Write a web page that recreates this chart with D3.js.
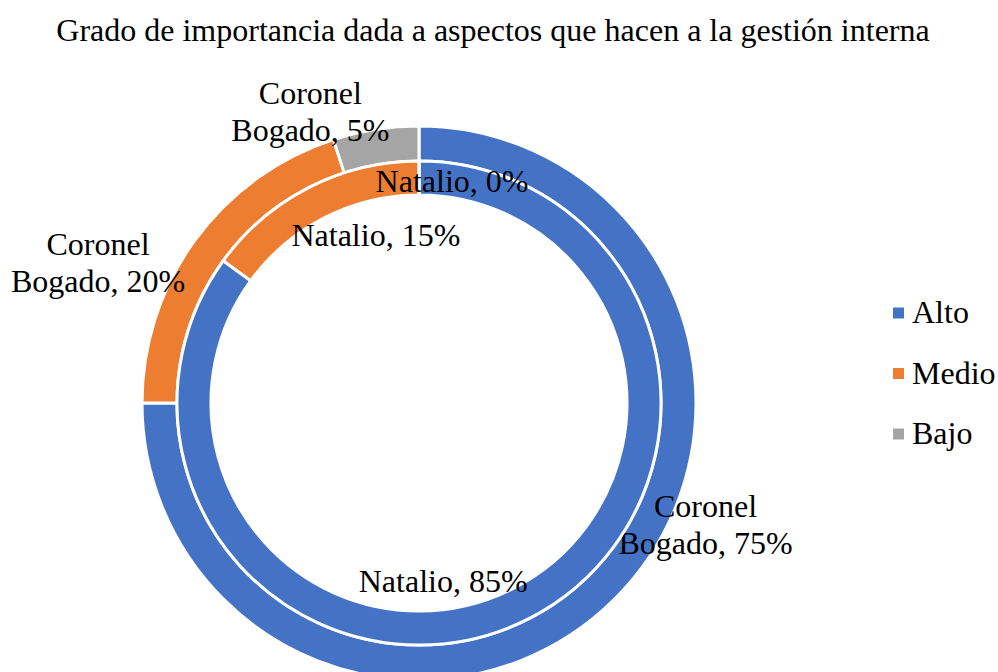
<!DOCTYPE html>
<html>
<head>
<meta charset="utf-8">
<script src="https://cdn.jsdelivr.net/npm/d3@7"></script>
<style>
  body { margin: 0; background: #fff; }
  svg { display: block; }
</style>
</head>
<body>
<div id="chart"></div>
<script>
// datos
const niveles = ['Alto', 'Medio', 'Bajo'];
const colores = ['#4472C4', '#ED7D31', '#A5A5A5'];
const coronelBogado = [75, 20, 5];
const natalio = [85, 15, 0];
const anillos = ['Coronel Bogado', 'Natalio'];

const width = 998;
const height = 672;
const cx = 419, cy = 403;
const font = '"Liberation Serif", "Times New Roman", serif';

// desplazamiento de cada etiqueta respecto al centroide del sector
const labelShift = {
  'Coronel Bogado': [[103, -60], [-111, 14], [-68, -34]],
  'Natalio': [[-78, -21], [59, 33], [33, 4]]
};

const svg = d3.select('#chart')
  .append('svg')
  .attr('width', width)
  .attr('height', height);

svg.append('text')
  .attr('x', 493)
  .attr('y', 41)
  .attr('text-anchor', 'middle')
  .attr('font-family', font)
  .attr('font-size', '32px')
  .text('Grado de importancia dada a aspectos que hacen a la gestión interna');

const color = d3.scaleOrdinal().domain(niveles).range(colores);

const pie = d3.pie().sort(null).value(d => d.v);

const rings = [
  { name: anillos[0], values: coronelBogado, r0: 242, r1: 277 },
  { name: anillos[1], values: natalio, r0: 208, r1: 242 }
];

const g = svg.append('g').attr('transform', `translate(${cx},${cy})`);

rings.forEach(ring => {
  const arc = d3.arc().innerRadius(ring.r0).outerRadius(ring.r1);
  const slices = pie(niveles.map((n, i) => ({ n: n, v: ring.values[i] })));

  g.append('g').selectAll('path')
    .data(slices)
    .enter()
    .append('path')
    .attr('d', arc)
    .attr('fill', d => color(d.data.n))
    .attr('stroke', '#fff')
    .attr('stroke-width', 3);

  slices.forEach((d, i) => {
    const c = arc.centroid(d);
    const s = labelShift[ring.name][i];
    const lbl = g.append('text')
      .attr('text-anchor', 'middle')
      .attr('font-family', font)
      .attr('font-size', '32px')
      .attr('fill', '#000');
    const x = c[0] + s[0], y = c[1] + s[1];
    const txt = ring.name + ', ' + d.data.v + '%';
    if (ring.name === 'Coronel Bogado') {
      lbl.append('tspan').attr('x', x).attr('y', y - 9).text('Coronel');
      lbl.append('tspan').attr('x', x).attr('y', y + 28).text('Bogado, ' + d.data.v + '%');
    } else {
      lbl.append('tspan').attr('x', x).attr('y', y + 10).text(txt);
    }
  });
});

// leyenda
const legend = svg.append('g')
  .selectAll('g')
  .data(niveles)
  .enter()
  .append('g')
  .attr('transform', (d, i) => `translate(893,${313 + i * 60.5})`);

legend.append('rect')
  .attr('x', 0)
  .attr('y', -5.5)
  .attr('width', 11)
  .attr('height', 11)
  .attr('fill', d => color(d));

legend.append('text')
  .attr('x', 19)
  .attr('y', 10)
  .attr('font-family', font)
  .attr('font-size', '32px')
  .text(d => d);
</script>
</body>
</html>
